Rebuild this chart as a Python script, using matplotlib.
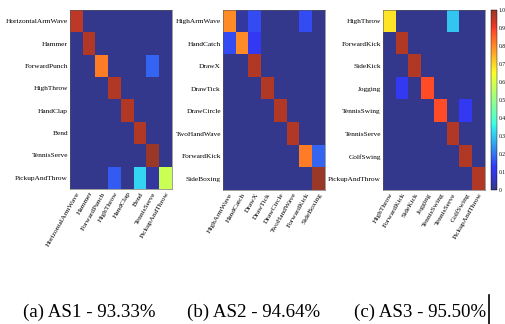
import numpy as np
import matplotlib
matplotlib.use("Agg")
import matplotlib.pyplot as plt
from matplotlib.colors import ListedColormap

labels1 = ["HorizontalArmWave", "Hammer", "ForwardPunch", "HighThrow",
           "HandClap", "Bend", "TennisServe", "PickupAndThrow"]
labels2 = ["HighArmWave", "HandCatch", "DrawX", "DrawTick",
           "DrawCircle", "TwoHandWave", "ForwardKick", "SideBoxing"]
labels3 = ["HighThrow", "ForwardKick", "SideKick", "Jogging",
           "TennisSwing", "TennisServe", "GolfSwing", "PickupAndThrow"]

cm1 = [
    [0.96, 0, 0, 0, 0, 0, 0, 0],
    [0, 0.97, 0, 0, 0, 0, 0, 0],
    [0, 0, 0.82, 0, 0, 0, 0.18, 0],
    [0, 0, 0, 0.97, 0, 0, 0, 0],
    [0, 0, 0, 0, 0.97, 0, 0, 0],
    [0, 0, 0, 0, 0, 0.97, 0, 0],
    [0, 0, 0, 0, 0, 0, 1.0, 0],
    [0, 0, 0, 0.17, 0, 0.32, 0.02, 0.58],
]
cm2 = [
    [0.80, 0.02, 0.15, 0, 0, 0, 0.15, 0],
    [0.15, 0.80, 0.12, 0, 0, 0, 0, 0],
    [0, 0, 0.97, 0, 0, 0, 0, 0],
    [0, 0, 0, 0.97, 0, 0, 0, 0],
    [0, 0, 0, 0, 0.97, 0, 0, 0],
    [0, 0, 0, 0, 0, 0.97, 0, 0],
    [0, 0, 0, 0, 0, 0, 0.82, 0.18],
    [0, 0, 0, 0, 0, 0, 0, 1.0],
]
cm3 = [
    [0.68, 0, 0, 0, 0, 0.30, 0, 0],
    [0, 0.97, 0, 0, 0, 0, 0, 0],
    [0, 0, 0.97, 0, 0, 0, 0, 0],
    [0, 0.12, 0, 0.88, 0, 0, 0, 0],
    [0, 0, 0, 0, 0.88, 0, 0.12, 0],
    [0, 0, 0, 0, 0, 0.97, 0, 0],
    [0, 0, 0, 0, 0, 0, 0.97, 0],
    [0, 0, 0, 0, 0, 0, 0, 0.97],
]
captions = ["(a) AS1 - 93.33%", "(b) AS2 - 94.64%", "(c) AS3 - 95.50%"]
cbar_ticks = [0, 0.1, 0.2, 0.3, 0.4, 0.5, 0.6, 0.7, 0.8, 0.9, 1.0]
cbar_labels = ["0", "0.1", "0.2", "0.3", "0.4", "0.5", "0.6", "0.7", "0.8", "0.9", "1.0"]

# jet, slightly washed out like the scanned reference
base = plt.get_cmap("jet")(np.linspace(0, 1, 256))
base[:, :3] = base[:, :3] * 0.8 + np.array([0.2, 0.22, 0.15])
cmap = ListedColormap(np.clip(base, 0, 1))

W, H = 505, 324
fig = plt.figure(figsize=(W / 100, H / 100), dpi=100)
serif = ["Liberation Serif", "DejaVu Serif"]

def rect(l, r, t, b):
    return [l / W, 1 - b / H, (r - l) / W, (b - t) / H]

boxes = [rect(70, 172, 10, 189), rect(223, 325, 10, 190), rect(383, 485, 10, 190)]
caption_x = [89, 254, 420]
data = [(cm1, labels1), (cm2, labels2), (cm3, labels3)]

im = None
for (cm, labs), box, cx, cap in zip(data, boxes, caption_x, captions):
    ax = fig.add_axes(box)
    im = ax.imshow(np.array(cm), cmap=cmap, vmin=0, vmax=1, aspect="auto",
                   interpolation="nearest")
    ax.set_xticks(range(len(labs)))
    ax.set_yticks(range(len(labs)))
    ax.set_xticklabels(labs, rotation=60, ha="right", rotation_mode="anchor",
                       fontsize=5.3, family=serif)
    ax.set_yticklabels(labs, fontsize=5.3, family=serif)
    ax.tick_params(length=0, pad=1.5)
    for s in ax.spines.values():
        s.set_linewidth(0.4)
        s.set_color("#555555")
    fig.text(cx / W, 1 - 317 / H, cap, ha="center", va="baseline",
             fontsize=13.6, family=serif)

cax = fig.add_axes(rect(491, 497, 10, 190))
cb = fig.colorbar(im, cax=cax, ticks=cbar_ticks)
cb.ax.set_yticklabels(cbar_labels, fontsize=4, family=serif)
cb.ax.tick_params(length=0, pad=1)
cb.outline.set_linewidth(0.3)

fig.add_artist(plt.Line2D([488.5 / W, 488.5 / W], [0, 1 - 295 / H],
                          color="black", lw=1.2))

fig.savefig("out.png", dpi=100)
